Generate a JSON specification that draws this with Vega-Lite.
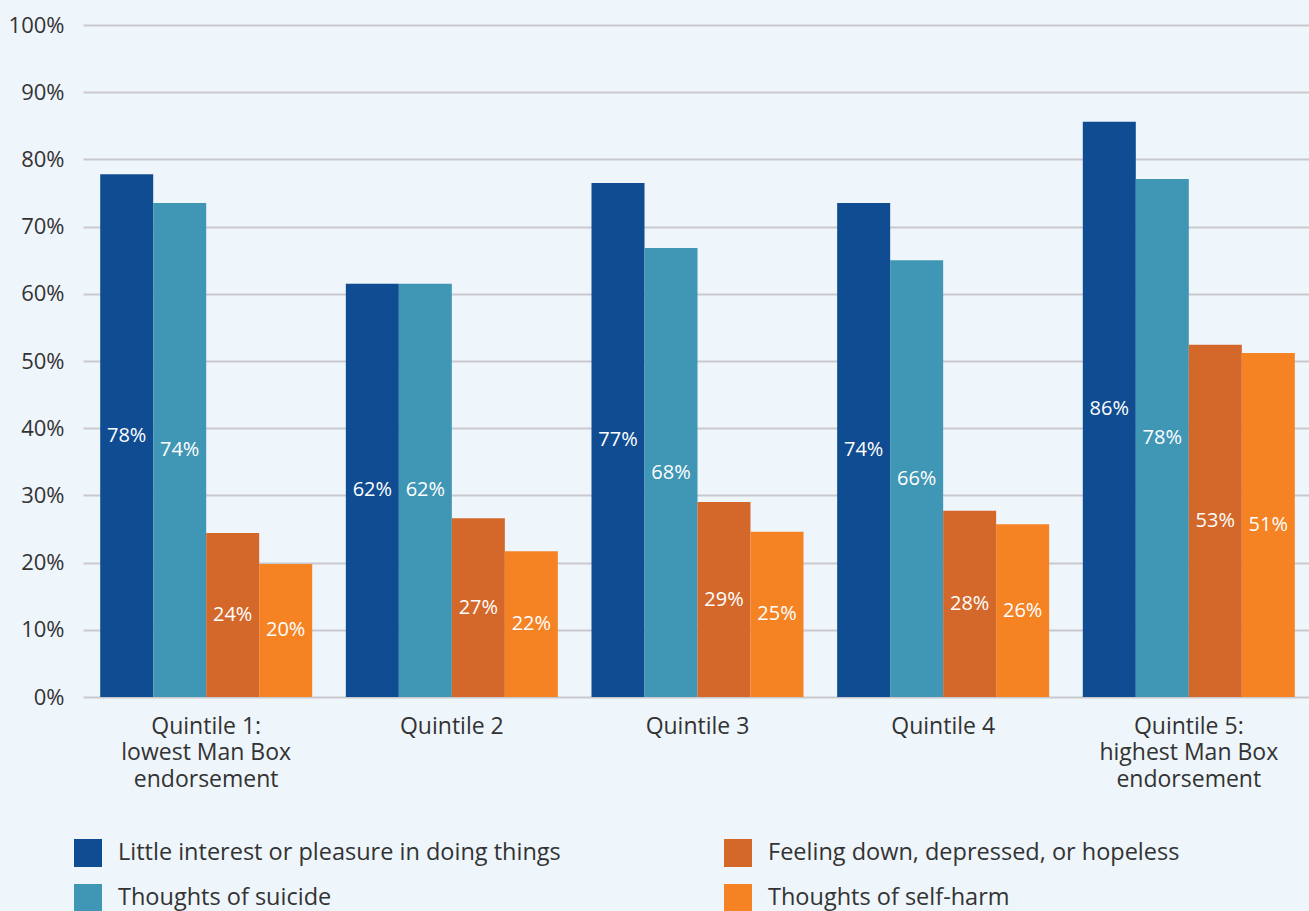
{
  "$schema": "https://vega.github.io/schema/vega-lite/v6.json",
  "width": 1229,
  "height": 672,
  "autosize": {"type": "none"},
  "padding": {"left": 83, "top": 25, "right": 0, "bottom": 214},
  "background": "#EEF5FB",
  "config": {"view": {"stroke": null}, "font": "Open Sans"},
  "data": {
    "values": [
      {"q": "Quintile 1:|lowest Man Box|endorsement", "s": "Little interest or pleasure in doing things", "v": 77.8, "label": "78%"},
      {"q": "Quintile 1:|lowest Man Box|endorsement", "s": "Thoughts of suicide", "v": 73.5, "label": "74%"},
      {"q": "Quintile 1:|lowest Man Box|endorsement", "s": "Feeling down, depressed, or hopeless", "v": 24.4, "label": "24%"},
      {"q": "Quintile 1:|lowest Man Box|endorsement", "s": "Thoughts of self-harm", "v": 19.8, "label": "20%"},
      {"q": "Quintile 2", "s": "Little interest or pleasure in doing things", "v": 61.5, "label": "62%"},
      {"q": "Quintile 2", "s": "Thoughts of suicide", "v": 61.5, "label": "62%"},
      {"q": "Quintile 2", "s": "Feeling down, depressed, or hopeless", "v": 26.6, "label": "27%"},
      {"q": "Quintile 2", "s": "Thoughts of self-harm", "v": 21.7, "label": "22%"},
      {"q": "Quintile 3", "s": "Little interest or pleasure in doing things", "v": 76.5, "label": "77%"},
      {"q": "Quintile 3", "s": "Thoughts of suicide", "v": 66.8, "label": "68%"},
      {"q": "Quintile 3", "s": "Feeling down, depressed, or hopeless", "v": 29.0, "label": "29%"},
      {"q": "Quintile 3", "s": "Thoughts of self-harm", "v": 24.6, "label": "25%"},
      {"q": "Quintile 4", "s": "Little interest or pleasure in doing things", "v": 73.5, "label": "74%"},
      {"q": "Quintile 4", "s": "Thoughts of suicide", "v": 65.0, "label": "66%"},
      {"q": "Quintile 4", "s": "Feeling down, depressed, or hopeless", "v": 27.7, "label": "28%"},
      {"q": "Quintile 4", "s": "Thoughts of self-harm", "v": 25.7, "label": "26%"},
      {"q": "Quintile 5:|highest Man Box|endorsement", "s": "Little interest or pleasure in doing things", "v": 85.6, "label": "86%"},
      {"q": "Quintile 5:|highest Man Box|endorsement", "s": "Thoughts of suicide", "v": 77.1, "label": "78%"},
      {"q": "Quintile 5:|highest Man Box|endorsement", "s": "Feeling down, depressed, or hopeless", "v": 52.4, "label": "53%"},
      {"q": "Quintile 5:|highest Man Box|endorsement", "s": "Thoughts of self-harm", "v": 51.2, "label": "51%"}
    ]
  },
  "encoding": {
    "x": {
      "field": "q", "type": "nominal", "sort": null,
      "scale": {"paddingInner": 0.137, "paddingOuter": 0.07},
      "axis": {
        "title": null, "domain": false, "ticks": false, "labelAngle": 0,
        "labelPadding": 18, "labelFontSize": 23, "labelLineHeight": 26.5,
        "labelColor": "#333333", "labelExpr": "split(datum.label, '|')",
        "labelLimit": 0
      }
    },
    "xOffset": {
      "field": "s", "type": "nominal",
      "scale": {
        "domain": ["Little interest or pleasure in doing things", "Thoughts of suicide", "Feeling down, depressed, or hopeless", "Thoughts of self-harm"],
        "paddingInner": 0, "paddingOuter": 0
      }
    }
  },
  "layer": [
    {
      "mark": {"type": "bar"},
      "encoding": {
        "y": {
          "field": "v", "type": "quantitative",
          "scale": {"domain": [0, 100], "nice": false},
          "axis": {
            "title": null, "domain": false, "ticks": false,
            "values": [0, 10, 20, 30, 40, 50, 60, 70, 80, 90, 100],
            "labelExpr": "datum.value + '%'",
            "labelPadding": 19, "labelFontSize": 22, "labelColor": "#333333",
            "gridColor": "#C9C9CD", "gridWidth": 2
          }
        },
        "color": {
          "field": "s", "type": "nominal",
          "scale": {
            "domain": ["Little interest or pleasure in doing things", "Thoughts of suicide", "Feeling down, depressed, or hopeless", "Thoughts of self-harm"],
            "range": ["#0F4C92", "#4096B5", "#D4682A", "#F58223"]
          },
          "legend": {
            "title": null, "orient": "none", "legendX": -9, "legendY": 814,
            "columns": 2, "columnPadding": 163, "rowPadding": 17,
            "symbolType": "square", "symbolSize": 784, "symbolStrokeWidth": 0,
            "labelFontSize": 23.5, "labelColor": "#333333", "labelOffset": 16,
            "labelLimit": 0
          }
        }
      }
    },
    {
      "mark": {"type": "text", "color": "white", "fontSize": 20, "baseline": "middle", "align": "center"},
      "encoding": {
        "y": {"field": "v", "type": "quantitative", "scale": {"domain": [0, 200], "nice": false}, "axis": null},
        "text": {"field": "label"}
      }
    }
  ],
  "resolve": {"scale": {"y": "independent"}}
}
